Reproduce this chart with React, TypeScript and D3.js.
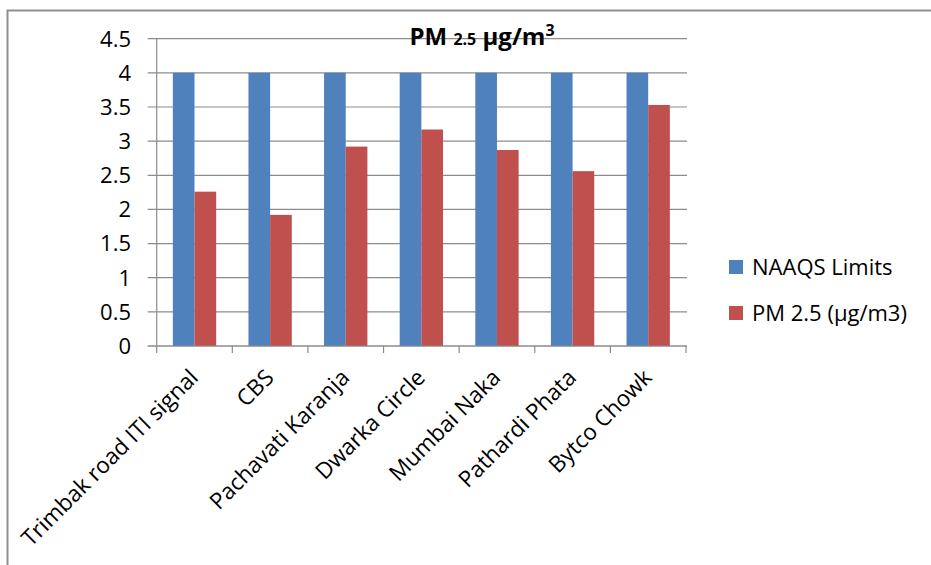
import React from "react";
import * as d3 from "d3";

const categories = [
  "Trimbak road ITI signal",
  "CBS",
  "Pachavati Karanja",
  "Dwarka Circle",
  "Mumbai Naka",
  "Pathardi Phata",
  "Bytco Chowk",
];
const naaqsLimits = [4, 4, 4, 4, 4, 4, 4];
const pm25 = [2.26, 1.92, 2.92, 3.17, 2.87, 2.56, 3.53];
const seriesNames = ["NAAQS Limits", "PM 2.5 (\u00b5g/m3)"];
const seriesColors = ["#4F81BD", "#C0504D"];
const yTicks = [0, 0.5, 1, 1.5, 2, 2.5, 3, 3.5, 4, 4.5];

const W = 931;
const H = 565;
const FONT = "'Open Sans', sans-serif";

export default function App() {
  const left = 156.7;
  const right = 686;
  const top = 38.7;
  const bottom = 346;

  const x0 = d3.scaleBand<string>().domain(categories).range([left, right]).padding(0);
  const bw = x0.bandwidth();
  const groupW = bw * 0.573;
  const x1 = d3
    .scaleBand<number>()
    .domain([0, 1])
    .range([(bw - groupW) / 2, (bw + groupW) / 2])
    .padding(0);
  const y = d3.scaleLinear().domain([0, 4.5]).range([bottom, top]);

  const series = [naaqsLimits, pm25];
  const grid = "#8C8C8C";

  return (
    <svg
      width={W}
      height={H}
      style={{ position: "absolute", left: 0, top: 0, background: "#fff" }}
      fontFamily={FONT}
    >
      <rect x={0} y={0} width={W} height={H} fill="#fff" />
      {/* outer border */}
      <path d={`M7.5,${H + 5} L7.5,10.5 L${W + 5},10.5`} fill="none" stroke="#8F8F8F" strokeWidth={2} />

      {/* gridlines */}
      {yTicks.map((t) => (
        <line key={"g" + t} x1={left - 9} x2={right + 1} y1={y(t)} y2={y(t)} stroke={grid} strokeWidth={1.2} />
      ))}
      {/* y axis */}
      <line x1={left} x2={left} y1={top} y2={bottom} stroke={grid} strokeWidth={1.2} />
      {/* y tick labels */}
      {yTicks.map((t) => (
        <text key={"yl" + t} x={131} y={y(t)} dy="0.36em" textAnchor="end" fontSize={22} fill="#000">
          {String(t)}
        </text>
      ))}

      {/* bars */}
      {categories.map((c, i) => (
        <g key={c} transform={`translate(${x0(c)},0)`}>
          {series.map((s, j) => (
            <rect
              key={j}
              x={x1(j)}
              width={x1.bandwidth()}
              y={y(s[i])}
              height={y(0) - y(s[i])}
              fill={seriesColors[j]}
            />
          ))}
        </g>
      ))}

      {/* x axis */}
      <line x1={left - 9} x2={right + 1} y1={bottom} y2={bottom} stroke={grid} strokeWidth={1.2} />
      {d3.range(categories.length + 1).map((i) => {
        const xx = left + i * bw;
        return <line key={"xt" + i} x1={xx} x2={xx} y1={bottom} y2={bottom + 7} stroke={grid} strokeWidth={1.2} />;
      })}
      {/* x labels */}
      {categories.map((c) => {
        const cx = (x0(c) as number) + bw / 2 + 5;
        const cy = 379;
        return (
          <text
            key={"xl" + c}
            x={cx}
            y={cy}
            textAnchor="end"
            fontSize={22.5}
            fill="#000"
            transform={`rotate(-45,${cx},${cy})`}
          >
            {c}
          </text>
        );
      })}

      {/* title */}
      <text x={482} y={45} textAnchor="middle" fontSize={24} fontWeight="bold" fill="#000">
        PM <tspan fontSize={16}>2.5</tspan> µg/m<tspan fontSize={16} dy={-9}>3</tspan>
      </text>

      {/* legend */}
      {seriesNames.map((n, j) => {
        const ly = 267 + j * 46;
        return (
          <g key={n}>
            <rect x={729} y={ly - 7} width={14} height={14} fill={seriesColors[j]} />
            <text x={752} y={ly} dy="0.36em" fontSize={22} fill="#000">
              {n}
            </text>
          </g>
        );
      })}
    </svg>
  );
}
